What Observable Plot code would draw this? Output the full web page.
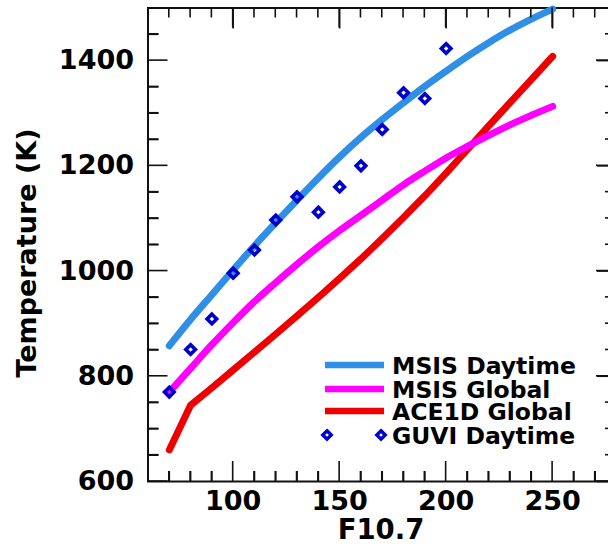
<!DOCTYPE html>
<html>
<head>
<meta charset="utf-8">
<script src="https://cdn.jsdelivr.net/npm/d3@7"></script>
<script src="https://cdn.jsdelivr.net/npm/@observablehq/plot@0.6"></script>
<style>
  html, body { margin: 0; padding: 0; background: #fff; }
  #wrap { position: relative; width: 608px; height: 544px; }
  #chart svg { display: block; }
  #overlay { position: absolute; left: 0; top: 0; pointer-events: none; }
  #note { position: absolute; left: 0; top: 0; margin: 0; font-size: 1px; color: #fff; }
</style>
</head>
<body>
<div id="wrap">
  <div id="chart"></div>
  <svg id="overlay" width="608" height="544"></svg>
</div>
<pre id="note">&nbsp;</pre>
<script>
// ---- data ----
const f107 = [70, 80, 90, 100, 110, 120, 130, 140, 150, 160, 170, 180, 190, 200, 210, 220, 230, 240, 250];
const msisDaytime = [858, 908, 955, 1002, 1048, 1092, 1135, 1177, 1217, 1254, 1288, 1320, 1351, 1380, 1408, 1434, 1458, 1479, 1498];
const msisGlobal  = [770, 815, 860, 902, 942, 978, 1013, 1046, 1077, 1106, 1135, 1164, 1190, 1215, 1237, 1258, 1278, 1296, 1313];
const ace1dGlobal = [660, 745, 778, 812, 846, 880, 915, 950, 986, 1023, 1062, 1102, 1143, 1186, 1231, 1276, 1320, 1364, 1408];
const guviF107 = [70, 80, 90, 100, 110, 120, 130, 140, 150, 160, 170, 180, 190, 200];
const guviTemp = [770, 851, 909, 996, 1040, 1097, 1141, 1112, 1160, 1200, 1269, 1339, 1328, 1423];

const seriesNames = ["MSIS Daytime", "MSIS Global", "ACE1D Global", "GUVI Daytime"];
const seriesColors = ["#2f8fe6", "#ff00ff", "#ee0000", "#0000cc"];

const xMajorTicks = [100, 150, 200, 250];
const xMinorTicks = [70, 80, 90, 110, 120, 130, 140, 160, 170, 180, 190, 210, 220, 230, 240, 260, 270];
const yMajorTicks = [600, 800, 1000, 1200, 1400];
const yMinorTicks = [650, 700, 750, 850, 900, 950, 1050, 1100, 1150, 1250, 1300, 1350, 1450];

const msisDayRows = f107.map((x, i) => ({x, y: msisDaytime[i]}));
const msisGlobRows = f107.map((x, i) => ({x, y: msisGlobal[i]}));
const aceRows = f107.map((x, i) => ({x, y: ace1dGlobal[i]}));
const guvi = guviF107.map((x, i) => ({x, y: guviTemp[i]}));

const W = 608, H = 544;
const mL = 147.5, mT = 7.5, mB = 63, mR = -8;
const xDomain = [60, 280], yDomain = [600, 1500];
const font = "DejaVu Sans, Liberation Sans, sans-serif";
const tk = {label: null, stroke: "#111", strokeWidth: 1.6, tickFormat: () => ""};

const chart = Plot.plot({
  width: W, height: H,
  marginLeft: mL, marginRight: mR, marginTop: mT, marginBottom: mB,
  style: {fontFamily: font, fontWeight: "bold", background: "#fff"},
  x: {domain: xDomain, range: [mL, W - mR]},
  y: {domain: yDomain, range: [H - mB, mT]},
  marks: [
    Plot.axisX({...tk, ticks: xMinorTicks, anchor: "bottom", tickSize: -10}),
    Plot.axisX({...tk, ticks: xMajorTicks, anchor: "top", tickSize: -20}),
    Plot.axisY({...tk, ticks: yMinorTicks, anchor: "left", tickSize: -11}),
    Plot.axisY({...tk, ticks: yMajorTicks, anchor: "right", tickSize: -20}),
    Plot.axisX({ticks: xMajorTicks, anchor: "bottom", tickSize: 0, tickPadding: 9, fontSize: 27, label: null, tickFormat: d => String(d), fill: "#000"}),
    Plot.axisY({ticks: yMajorTicks, anchor: "left", tickSize: 0, tickPadding: 14, fontSize: 27, label: null, tickFormat: d => String(d), fill: "#000"}),
    Plot.frame({stroke: "#111", strokeWidth: 2}),
    Plot.line(aceRows, {x: "x", y: "y", stroke: seriesColors[2], strokeWidth: 7}),
    Plot.line(msisGlobRows, {x: "x", y: "y", stroke: seriesColors[1], strokeWidth: 7, curve: "monotone-x"}),
    Plot.line(msisDayRows, {x: "x", y: "y", stroke: seriesColors[0], strokeWidth: 7, curve: "monotone-x"}),
    Plot.dot(guvi, {x: "x", y: "y", symbol: "diamond2", r: 4.3, stroke: seriesColors[3], strokeWidth: 3.6, fill: "none"})
  ]
});

document.getElementById("chart").appendChild(chart);
const svg = d3.select(chart);
const sx = chart.scale("x"), sy = chart.scale("y");

// inward ticks on all four sides in an overlay, placed with Plot's own scales
const ov = d3.select("#overlay");
const xL = mL, xR = W - mR, yB = H - mB, yT = mT;
function addTick(x1, y1, x2, y2) {
  ov.append("line").attr("x1", x1).attr("y1", y1).attr("x2", x2).attr("y2", y2)
    .attr("stroke", "#111").attr("stroke-width", 1.6);
}
xMajorTicks.forEach(v => { const p = sx.apply(v); addTick(p, yB, p, yB - 20); addTick(p, yT, p, yT + 20); });
xMinorTicks.forEach(v => { const p = sx.apply(v); addTick(p, yB, p, yB - 10); addTick(p, yT, p, yT + 10); });
yMajorTicks.forEach(v => { const p = sy.apply(v); addTick(xL, p, xL + 20, p); addTick(xR, p, xR - 20, p); });
yMinorTicks.forEach(v => { const p = sy.apply(v); addTick(xL, p, xL + 11, p); addTick(xR, p, xR - 11, p); });

// axis titles
svg.append("text")
  .attr("x", 381).attr("y", 539)
  .attr("text-anchor", "middle")
  .attr("font-family", font).attr("font-weight", "bold").attr("font-size", 27.5)
  .attr("fill", "#000")
  .text("F10.7");
svg.append("text")
  .attr("transform", "translate(36,253) rotate(-90)")
  .attr("text-anchor", "middle")
  .attr("font-family", font).attr("font-weight", "bold").attr("font-size", 27)
  .attr("fill", "#000")
  .text("Temperature (K)");

// legend inside the plot (lower right)
const leg = svg.append("g")
  .attr("font-family", font).attr("font-weight", "bold").attr("font-size", 23.5)
  .attr("text-anchor", "start");
const rowY = [365, 389, 411, 435];
seriesNames.forEach((name, i) => {
  const cy = rowY[i];
  if (i < 3) {
    leg.append("line")
      .attr("x1", 325).attr("x2", 384).attr("y1", cy).attr("y2", cy)
      .attr("stroke", seriesColors[i]).attr("stroke-width", 6.5);
  } else {
    const sym = d3.symbol(d3.symbolDiamond2, Math.PI * 3.8 * 3.8);
    [327, 381].forEach(cx => {
      leg.append("path").attr("d", sym())
        .attr("transform", `translate(${cx},${cy})`)
        .attr("fill", "none").attr("stroke", seriesColors[3]).attr("stroke-width", 3.4);
    });
  }
  leg.append("text").attr("x", 392).attr("y", cy + 8.5).attr("text-anchor", "start").attr("fill", "#000").text(name);
});
</script>
</body>
</html>
